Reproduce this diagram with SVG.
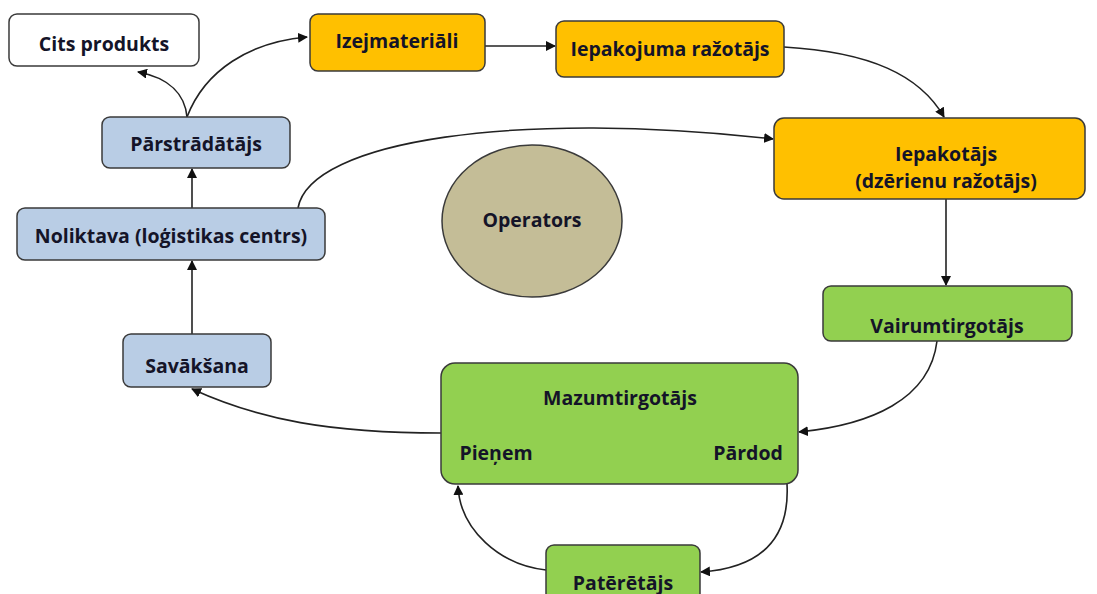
<svg xmlns="http://www.w3.org/2000/svg" width="1097" height="594" viewBox="0 0 1097 594">
<defs>
<marker id="ah" viewBox="0 0 10 10" refX="9" refY="5" markerWidth="10" markerHeight="10" markerUnits="userSpaceOnUse" orient="auto">
<path d="M0,0 L10,5 L0,10 Z" fill="#111"/>
</marker>
<style>
.box{stroke:#3a3a3a;stroke-width:1.5}
.o{fill:#FFC000}.b{fill:#B9CDE5}.g{fill:#92D050}.w{fill:#fff}
text{font-family:"Open Sans",Lato,"Liberation Sans",sans-serif;font-weight:bold;font-size:19.5px;fill:#141428;text-anchor:middle}
.c{fill:none;stroke:#222;stroke-width:1.6;marker-end:url(#ah)}
</style>
</defs>
<rect width="1097" height="594" fill="#fff"/>
<g id="connectors">
<path class="c" d="M187,117 C185,95 170,78 138,72"/>
<path class="c" d="M187,117 C205,70 250,42 307,37"/>
<path class="c" d="M192,208 L192,169"/>
<path class="c" d="M298,208 C310,140 520,110 773,139"/>
<path class="c" d="M485,46 L555,46"/>
<path class="c" d="M784,47 C870,52 920,75 944,117"/>
<path class="c" d="M946,199 L946,285"/>
<path class="c" d="M937,341 C930,400 870,425 799,432"/>
<path class="c" d="M787,484 C790,540 760,568 701,572"/>
<path class="c" d="M546,570 C500,565 460,530 458,486"/>
<path class="c" d="M441,433 C330,433 260,420 192,389"/>
<path class="c" d="M192,334 L192,261"/>
</g>
<g id="cits"><rect class="box w" x="9" y="14" width="190" height="52" rx="8"/><text x="104" y="51">Cits produkts</text></g>
<g id="parstradatajs"><rect class="box b" x="102" y="117" width="188" height="51" rx="8"/><text x="196" y="151">Pārstrādātājs</text></g>
<g id="noliktava"><rect class="box b" x="17" y="208" width="308" height="52" rx="8"/><text x="171" y="243">Noliktava (loģistikas centrs)</text></g>
<g id="izejmateriali"><rect class="box o" x="310" y="14" width="175" height="57" rx="8"/><text x="397" y="48">Izejmateriāli</text></g>
<g id="iepakojuma"><rect class="box o" x="556" y="21" width="228" height="56" rx="8"/><text x="670" y="56">Iepakojuma ražotājs</text></g>
<g id="iepakotajs"><rect class="box o" x="774" y="118" width="311" height="81" rx="10"/><text x="946" y="161">Iepakotājs</text><text x="946" y="188">(dzērienu ražotājs)</text></g>
<g id="operators"><ellipse cx="532" cy="221" rx="90" ry="76" fill="#C4BD97" stroke="#3a3a3a" stroke-width="1.5"/><text x="532" y="227">Operators</text></g>
<g id="vairumtirgotajs"><rect class="box g" x="823" y="286" width="249" height="55" rx="8"/><text x="947" y="333">Vairumtirgotājs</text></g>
<g id="savaksana"><rect class="box b" x="123" y="334" width="148" height="53" rx="8"/><text x="197" y="373">Savākšana</text></g>
<g id="mazumtirgotajs"><rect class="box g" x="441" y="363" width="357" height="121" rx="14"/><text x="620" y="405">Mazumtirgotājs</text><text x="496" y="460">Pieņem</text><text x="748" y="460">Pārdod</text></g>
<g id="pateretajs"><rect class="box g" x="546" y="545" width="154" height="60" rx="8"/><text x="623" y="590">Patērētājs</text></g>
</svg>
